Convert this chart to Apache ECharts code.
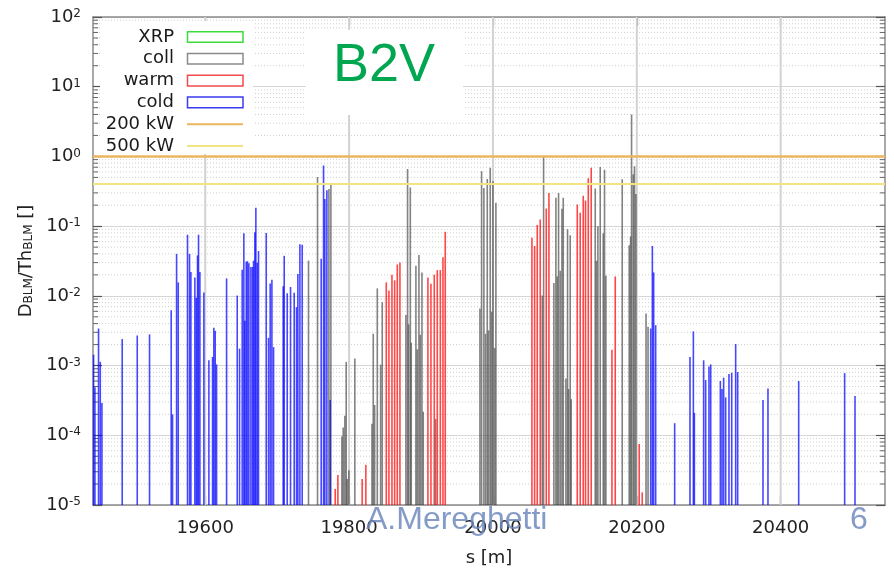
<!DOCTYPE html>
<html>
<head>
<meta charset="utf-8">
<script src="https://cdn.jsdelivr.net/npm/echarts@6/dist/echarts.min.js"></script>
<style>
  html, body { margin: 0; padding: 0; background: #fff; }
  #chart { width: 894px; height: 572px; }
</style>
</head>
<body>
<div id="chart"></div>
<script>
// Axis ranges and tick positions
const xRange = [19444, 20545];
const yRange = [1e-5, 1e2];
const xTicks = [19600, 19800, 20000, 20200, 20400];

// Loss thresholds (normalised dose)
const threshold200kW = 1.0;
const threshold500kW = 0.4;

// BLM readings: [s (m), D_BLM / Th_BLM]
const coll = [
  [19743.6, 3.2e-2], [19756.1, 0.507], [19771.9, 0.342], [19774.7, 0.394],
  [19790.0, 9.6e-5], [19791.8, 1.29e-4], [19794.1, 1.91e-4], [19796.0, 1.13e-3],
  [19797.4, 2.36e-5], [19799.7, 3.14e-5], [19808.0, 1.26e-3],
  [19831.8, 1.46e-4], [19833.6, 2.86e-3], [19835.5, 2.72e-4], [19839.2, 1.28e-2],
  [19843.8, 1.03e-3], [19846.1, 8.1e-3],
  [19879.0, 5.3e-3], [19881.3, 0.659], [19882.7, 3.9e-3], [19885.1, 0.357],
  [19886.4, 2.13e-3], [19892.9, 2.70e-2], [19894.8, 1.71e-3], [19897.1, 3.87e-2],
  [19899.0, 2.77e-3], [19901.3, 2.17e-2], [19903.1, 2.18e-4], [19920.3, 1.71e-4],
  [19981.9, 6.6e-3], [19984.2, 0.611], [19987.4, 0.353], [19989.8, 2.86e-3],
  [19992.1, 0.475], [19993.9, 3.2e-3], [19996.2, 0.689], [19998.1, 5.95e-3],
  [20000.0, 0.440], [20002.3, 1.79e-3], [20004.1, 0.216],
  [20068.5, 1.01e-2], [20070.4, 0.98],
  [20084.7, 1.53e-2], [20087.5, 0.255], [20089.4, 1.90e-2], [20091.2, 0.300],
  [20093.5, 2.29e-2], [20095.9, 0.177], [20097.7, 0.255], [20101.4, 6.5e-4],
  [20103.7, 9.0e-2], [20105.1, 4.6e-4], [20107.4, 7.4e-2], [20108.8, 3.3e-4],
  [20142.2, 0.346], [20144.0, 3.18e-2], [20145.9, 0.100], [20149.1, 0.705],
  [20153.3, 7.9e-2], [20155.1, 0.645], [20157.0, 1.94e-2],
  [20179.7, 0.470], [20189.4, 5.3e-2], [20191.3, 7.1e-2], [20192.7, 4.0],
  [20195.0, 0.554], [20196.8, 0.720], [20198.7, 0.288],
  [20212.8, 5.6e-3], [20215.6, 3.6e-3]
];

const warm = [
  [19780.7, 1.70e-5], [19784.4, 2.69e-5], [19818.2, 2.36e-5], [19823.3, 3.78e-5],
  [19851.7, 1.56e-2], [19855.4, 1.19e-2], [19859.6, 2.01e-2], [19863.3, 1.67e-2],
  [19867.0, 2.82e-2], [19870.7, 3.01e-2],
  [19909.6, 1.84e-2], [19913.8, 1.49e-2], [19918.4, 2.01e-2], [19922.6, 2.34e-2],
  [19926.8, 2.34e-2], [19930.5, 3.58e-2], [19933.7, 8.33e-2],
  [20054.2, 6.8e-2], [20057.9, 5.2e-2], [20061.6, 0.104], [20065.7, 0.125],
  [20074.1, 0.179], [20077.8, 0.300],
  [20117.2, 0.204], [20121.3, 0.156], [20125.5, 0.272], [20128.7, 0.233],
  [20132.5, 0.485], [20136.6, 0.689],
  [20165.4, 1.69e-3], [20170.0, 1.90e-2], [20203.3, 7.5e-5], [20207.5, 1.52e-5]
];

const cold = [
  [19444.8, 1.43e-3], [19446.7, 4.9e-4], [19451.7, 3.4e-3], [19454.1, 1.13e-3],
  [19456.4, 2.9e-4], [19484.6, 2.4e-3], [19505.5, 2.7e-3], [19522.6, 2.8e-3],
  [19552.7, 6.2e-3], [19554.6, 2.0e-4], [19560.2, 4.0e-2], [19562.5, 1.56e-2],
  [19575.4, 7.5e-2], [19578.2, 4.0e-2], [19580.1, 2.2e-2], [19585.6, 1.84e-2],
  [19587.5, 9.4e-3], [19589.3, 3.8e-2], [19590.7, 7.5e-2], [19592.6, 2.2e-2],
  [19598.1, 1.12e-2], [19605.1, 1.19e-3], [19610.2, 1.33e-3], [19612.0, 3.5e-3],
  [19613.9, 3.15e-3], [19615.8, 1.04e-3], [19629.7, 1.78e-2],
  [19644.5, 1.01e-2], [19647.7, 1.75e-3], [19651.4, 2.36e-2], [19653.7, 7.9e-2],
  [19655.1, 4.4e-3], [19657.0, 3.1e-2], [19658.8, 3.14e-2], [19660.7, 2.94e-2],
  [19663.5, 2.6e-2], [19665.8, 2.6e-2], [19667.2, 3.2e-2], [19669.0, 8.2e-2],
  [19670.4, 0.183], [19672.3, 3.0e-2], [19674.1, 4.4e-2],
  [19684.8, 8.0e-2], [19688.0, 2.5e-3], [19690.3, 1.51e-2], [19692.7, 1.70e-2],
  [19695.0, 1.84e-3], [19708.4, 1.37e-2], [19709.8, 3.75e-2], [19714.0, 1.09e-2],
  [19718.6, 1.34e-2], [19723.7, 1.11e-2], [19726.9, 6.9e-3], [19728.8, 2.05e-2],
  [19731.6, 5.5e-2], [19734.8, 5.4e-2],
  [19761.2, 3.4e-2], [19764.5, 0.744], [19766.3, 0.246], [19769.1, 0.327],
  [19773.7, 3.2e-4],
  [20219.3, 3.4e-3], [20221.6, 5.2e-2], [20223.4, 2.17e-2], [20226.2, 3.8e-3],
  [20252.6, 1.49e-4], [20273.9, 1.33e-3], [20278.6, 3.1e-3], [20280.0, 2.1e-4],
  [20292.9, 1.19e-3], [20295.7, 6.2e-4], [20300.3, 9.7e-4], [20302.7, 1.04e-3],
  [20316.1, 6.0e-4], [20318.4, 4.6e-4], [20320.7, 6.7e-4], [20323.5, 3.5e-4],
  [20328.1, 7.6e-4], [20331.9, 7.9e-4], [20337.4, 2.04e-3], [20340.2, 8.1e-4],
  [20375.4, 3.2e-4], [20382.3, 4.7e-4], [20425.0, 6.0e-4], [20488.9, 7.8e-4],
  [20503.3, 3.65e-4]
];

// Minor log ticks (2..9 per decade) for the dotted grid and small frame ticks
const minorTicks = [];
for (let e = -5; e < 2; e++) {
  for (let m = 2; m <= 9; m++) minorTicks.push(m * Math.pow(10, e));
}

const FONT = 'DejaVu Sans';
const SANS = 'Liberation Sans';

// Impulse drawn from the axis floor up to the reading
function impulse(fill) {
  return function (params, api) {
    const s = api.value(0);
    const v = api.value(1);
    const top = api.coord([s, v]);
    const base = api.coord([s, yRange[0]]);
    const w = 1.6;
    return {
      type: 'rect',
      shape: { x: top[0] - w / 2, y: top[1], width: w, height: base[1] - top[1] },
      style: { fill: fill }
    };
  };
}

// Dotted minor grid line plus short inward ticks on both frame sides
function minorDecor(params, api) {
  const cs = params.coordSys;
  const y = api.coord([xRange[0], api.value(1)])[1];
  const L = cs.x, R = cs.x + cs.width;
  return {
    type: 'group',
    children: [
      { type: 'line', shape: { x1: L, y1: y, x2: R, y2: y },
        style: { stroke: '#cfcfcf', lineWidth: 1, lineDash: [1, 2] } },
      { type: 'line', shape: { x1: L, y1: y, x2: L + 5, y2: y },
        style: { stroke: '#666', lineWidth: 1 } },
      { type: 'line', shape: { x1: R - 5, y1: y, x2: R, y2: y },
        style: { stroke: '#666', lineWidth: 1 } }
    ]
  };
}

// Vertical grid line at each labelled s position
function sGridLine(params, api) {
  const cs = params.coordSys;
  const x = api.coord([api.value(0), yRange[0]])[0];
  return {
    type: 'line',
    shape: { x1: x, y1: cs.y, x2: x, y2: cs.y + cs.height },
    style: { stroke: '#d2d2d2', lineWidth: 2 }
  };
}

const yLabel = {
  margin: 12,
  formatter: v => '{b|10}{s|' + Math.round(Math.log10(v)) + '}',
  rich: {
    b: { fontSize: 18, fontFamily: FONT, color: '#222' },
    s: { fontSize: 12, fontFamily: FONT, color: '#222', verticalAlign: 'top' }
  }
};

const frameLine = { show: true, onZero: false, lineStyle: { color: '#8c8c8c', width: 1.5 } };

// Legend rows (drawn as graphics, text right-aligned against the swatches)
const legendRows = [
  { name: 'XRP', kind: 'box', color: '#3ddc3d' },
  { name: 'coll', kind: 'box', color: '#8a8a8a' },
  { name: 'warm', kind: 'box', color: '#f24a4a' },
  { name: 'cold', kind: 'box', color: '#3a3af0' },
  { name: '200 kW', kind: 'line', color: '#ebb65c' },
  { name: '500 kW', kind: 'line', color: '#f2e47e' }
];
const legendEls = [
  { type: 'rect', shape: { x: 100, y: 21, width: 153, height: 133 },
    style: { fill: '#fff' }, z: 10 }
];
legendRows.forEach((r, i) => {
  const cy = 37 + i * 21.8;
  legendEls.push({
    type: 'text', z: 11,
    style: { x: 174, y: cy, text: r.name, fill: '#1a1a1a', font: '18px "' + FONT + '"',
      align: 'right', verticalAlign: 'middle', textAlign: 'right', textVerticalAlign: 'middle' }
  });
  if (r.kind === 'box') {
    legendEls.push({ type: 'rect', z: 11,
      shape: { x: 187.5, y: cy - 5.3, width: 55.5, height: 10.6 },
      style: { fill: 'none', stroke: r.color, lineWidth: 1.5 } });
  } else {
    legendEls.push({ type: 'line', z: 11,
      shape: { x1: 187, y1: cy, x2: 243, y2: cy },
      style: { stroke: r.color, lineWidth: 2 } });
  }
});

const chart = echarts.init(document.getElementById('chart'), null, { renderer: 'canvas' });
chart.setOption({
  animation: false,
  backgroundColor: '#fff',
  grid: { left: 93, right: 9, top: 17, bottom: 64, containLabel: false },
  xAxis: [
    {
      type: 'value', min: xRange[0], max: xRange[1], position: 'bottom',
      name: 's [m]', nameLocation: 'middle', nameGap: 44,
      nameTextStyle: { fontSize: 18, fontFamily: FONT, color: '#222' },
      axisLine: frameLine,
      axisTick: { show: true, inside: true, length: 9, customValues: xTicks,
        lineStyle: { color: '#555', width: 1.2 } },
      axisLabel: { customValues: xTicks, fontSize: 18, fontFamily: FONT, color: '#222', margin: 14,
        formatter: v => String(Math.round(v)) },
      splitLine: { show: false }
    },
    {
      type: 'value', min: xRange[0], max: xRange[1], position: 'top',
      axisLine: frameLine,
      axisTick: { show: true, inside: true, length: 9, customValues: xTicks,
        lineStyle: { color: '#555', width: 1.2 } },
      axisLabel: { show: false },
      splitLine: { show: false }
    }
  ],
  yAxis: [
    {
      type: 'log', logBase: 10, min: yRange[0], max: yRange[1], position: 'left',
      name: '{m|D}{sub|BLM}{m|/Th}{sub|BLM}{m| []}',
      nameLocation: 'middle', nameGap: 58, nameRotate: 90,
      nameTextStyle: {
        rich: {
          m: { fontSize: 18, fontFamily: FONT, color: '#222' },
          sub: { fontSize: 12, fontFamily: FONT, color: '#222', verticalAlign: 'bottom' }
        }
      },
      axisLine: frameLine,
      axisTick: { show: true, inside: true, length: 9, lineStyle: { color: '#555', width: 1.2 } },
      axisLabel: yLabel,
      splitLine: { show: true, lineStyle: { color: '#d6d6d6', width: 1.2 } }
    },
    {
      type: 'log', logBase: 10, min: yRange[0], max: yRange[1], position: 'right',
      axisLine: frameLine,
      axisTick: { show: true, inside: true, length: 9, lineStyle: { color: '#555', width: 1.2 } },
      axisLabel: { show: false },
      splitLine: { show: false }
    }
  ],
  graphic: {
    elements: legendEls.concat([
      { type: 'rect', shape: { x: 306, y: 30, width: 157, height: 85 },
        style: { fill: '#fff' }, z: 10 },
      { type: 'text', z: 11,
        style: { x: 384, y: 93, text: 'B2V', fill: '#00a650', font: '54px "' + SANS + '"',
          align: 'center', verticalAlign: 'bottom', textAlign: 'center', textVerticalAlign: 'bottom' } },
      { type: 'text', z: 30,
        style: { x: 366, y: 520, text: 'A.Mereghetti', fill: 'rgba(110,137,190,0.85)',
          font: '32px "' + SANS + '"', align: 'left', verticalAlign: 'middle',
          textAlign: 'left', textVerticalAlign: 'middle' } },
      { type: 'text', z: 30,
        style: { x: 859, y: 520, text: '6', fill: 'rgba(110,137,190,0.85)',
          font: '32px "' + SANS + '"', align: 'center', verticalAlign: 'middle',
          textAlign: 'center', textVerticalAlign: 'middle' } }
    ])
  },
  series: [
    {
      name: 'grid s', type: 'custom', silent: true, z: 1,
      data: xTicks.map(x => [x, yRange[0]]),
      encode: { x: 0, y: 1 },
      renderItem: sGridLine
    },
    {
      name: 'minor grid', type: 'custom', silent: true, z: 1,
      data: minorTicks.map(v => [xRange[0], v]),
      encode: { x: 0, y: 1 },
      renderItem: minorDecor
    },
    {
      name: 'coll', type: 'custom', z: 3, data: coll, encode: { x: 0, y: 1 },
      renderItem: impulse('rgba(55,55,55,0.62)')
    },
    {
      name: 'warm', type: 'custom', z: 3, data: warm, encode: { x: 0, y: 1 },
      renderItem: impulse('rgba(255,0,0,0.72)')
    },
    {
      name: 'cold', type: 'custom', z: 3, data: cold, encode: { x: 0, y: 1 },
      renderItem: impulse('rgba(0,0,255,0.72)')
    },
    {
      name: '200 kW', type: 'line', data: [], z: 20,
      markLine: {
        silent: true, symbol: 'none', label: { show: false },
        lineStyle: { color: '#ebb65c', width: 2.5, type: 'solid' },
        data: [{ yAxis: threshold200kW }]
      }
    },
    {
      name: '500 kW', type: 'line', data: [], z: 20,
      markLine: {
        silent: true, symbol: 'none', label: { show: false },
        lineStyle: { color: '#f2e47e', width: 2, type: 'solid' },
        data: [{ yAxis: threshold500kW }]
      }
    }
  ]
});
</script>
</body>
</html>
